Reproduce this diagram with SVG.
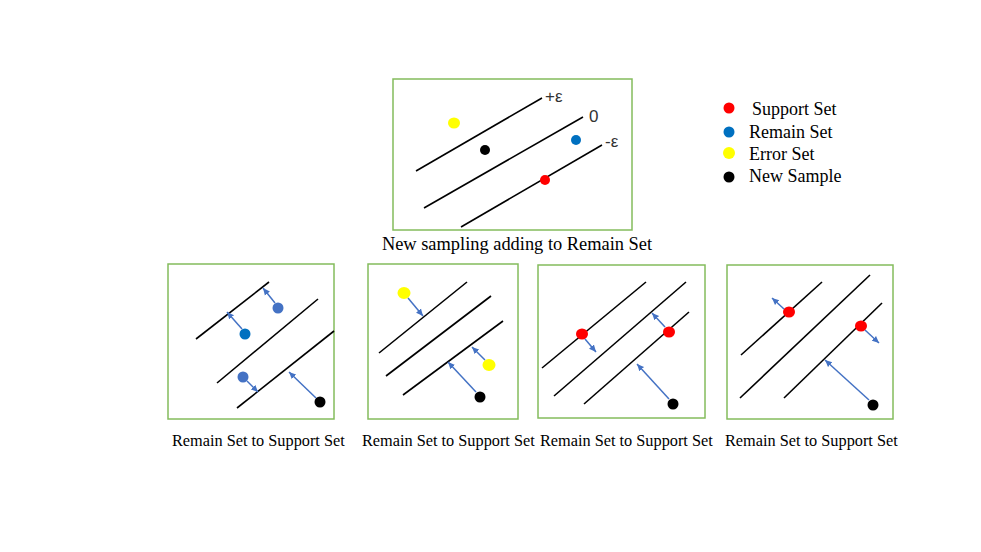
<svg xmlns="http://www.w3.org/2000/svg" width="981" height="552" viewBox="0 0 981 552">
<defs>
<style>
.box{fill:#fff;stroke:#84BC5C;stroke-width:1.5}
.ln{stroke:#000;stroke-width:1.6;fill:none}
.ar{stroke:#4472C4;stroke-width:1.5;fill:none;marker-end:url(#ah)}
.cap{font-family:"Liberation Serif","Times New Roman",serif;font-size:16.3px;fill:#000}
.leg{font-family:"Liberation Serif","Times New Roman",serif;font-size:18px;fill:#000}
.tcap{font-family:"Liberation Serif","Times New Roman",serif;font-size:18.4px;fill:#000}
.eps{font-family:"Liberation Sans",Arial,sans-serif;font-size:17px;fill:#333}
.r{fill:#FF0000}.b{fill:#0070C0}.b2{fill:#4472C4}.y{fill:#FFFF00}.k{fill:#000}
</style>
<marker id="ah" markerUnits="userSpaceOnUse" markerWidth="8" markerHeight="8" refX="7" refY="4" orient="auto">
<path d="M0,0.8 L7,4 L0,7.2 Z" fill="#4472C4"/>
</marker>
</defs>
<rect width="981" height="552" fill="#fff"/>

<g id="top">
<rect class="box" x="393" y="79" width="239" height="151"/>
<line class="ln" x1="416" y1="171" x2="542" y2="98"/>
<line class="ln" x1="424" y1="208" x2="583" y2="117"/>
<line class="ln" x1="461" y1="227" x2="602" y2="145"/>
<text class="eps" x="545" y="102">+ε</text>
<text class="eps" x="589" y="122">0</text>
<text class="eps" x="605" y="147">-ε</text>
<ellipse class="y" cx="454" cy="123" rx="6" ry="5.5"/>
<circle class="k" cx="485" cy="150" r="5"/>
<circle class="b" cx="576" cy="140" r="5"/>
<circle class="r" cx="545" cy="180" r="5"/>
<text class="tcap" x="517" y="250" text-anchor="middle">New sampling adding to Remain Set</text>
</g>

<g id="legend">
<circle class="r" cx="729" cy="108" r="5.5"/>
<text class="leg" x="752" y="115">Support Set</text>
<circle class="b" cx="729" cy="132" r="5.5"/>
<text class="leg" x="749" y="138">Remain Set</text>
<circle class="y" cx="729" cy="153" r="6"/>
<text class="leg" x="749" y="160">Error Set</text>
<circle class="k" cx="729" cy="177" r="5.5"/>
<text class="leg" x="749" y="182">New Sample</text>
</g>

<g id="panel1">
<rect class="box" x="168" y="264" width="166" height="155"/>
<line class="ln" x1="196" y1="339" x2="269" y2="282"/>
<line class="ln" x1="217" y1="383" x2="318" y2="299"/>
<line class="ln" x1="237" y1="408" x2="334" y2="331"/>
<circle class="b2" cx="278" cy="308" r="5.5"/>
<circle class="b" cx="245" cy="334" r="5.5"/>
<circle class="b2" cx="243" cy="377" r="5.5"/>
<circle class="k" cx="320" cy="402" r="5.5"/>
<text class="cap" x="172" y="446">Remain Set to Support Set</text>
</g>

<g id="panel2">
<rect class="box" x="368" y="264" width="150" height="155"/>
<line class="ln" x1="379" y1="353" x2="467" y2="282"/>
<line class="ln" x1="386" y1="376" x2="491" y2="296"/>
<line class="ln" x1="403" y1="395" x2="503" y2="321"/>
<ellipse class="y" cx="404" cy="293" rx="6.5" ry="6"/>
<ellipse class="y" cx="489" cy="365" rx="6.5" ry="6"/>
<circle class="k" cx="480" cy="397" r="5.5"/>
<text class="cap" x="362" y="446">Remain Set to Support Set</text>
</g>

<g id="panel3">
<rect class="box" x="538" y="265" width="167" height="153"/>
<line class="ln" x1="542" y1="368" x2="646" y2="282"/>
<line class="ln" x1="554" y1="396" x2="686" y2="282"/>
<line class="ln" x1="584" y1="404" x2="689" y2="312"/>
<ellipse class="r" cx="582" cy="334" rx="6" ry="5.5"/>
<ellipse class="r" cx="669" cy="332" rx="6" ry="5.5"/>
<circle class="k" cx="673" cy="404" r="5.5"/>
<text class="cap" x="540" y="446">Remain Set to Support Set</text>
</g>

<g id="panel4">
<rect class="box" x="727" y="265" width="166" height="154"/>
<line class="ln" x1="741" y1="355" x2="822" y2="282"/>
<line class="ln" x1="740" y1="398" x2="870" y2="275"/>
<line class="ln" x1="784" y1="398" x2="882" y2="303"/>
<ellipse class="r" cx="789" cy="312" rx="6" ry="5.5"/>
<ellipse class="r" cx="861" cy="326" rx="6" ry="5.5"/>
<circle class="k" cx="873" cy="405" r="5.5"/>
<text class="cap" x="725" y="446">Remain Set to Support Set</text>
</g>

<g id="connectors">
<line class="ar" x1="275" y1="303" x2="263" y2="288"/>
<line class="ar" x1="242" y1="329" x2="227" y2="312"/>
<line class="ar" x1="247" y1="381" x2="258" y2="392"/>
<line class="ar" x1="316" y1="398" x2="289" y2="372"/>
<line class="ar" x1="408" y1="298" x2="423" y2="316"/>
<line class="ar" x1="485" y1="360" x2="472" y2="347"/>
<line class="ar" x1="476" y1="392" x2="448" y2="362"/>
<line class="ar" x1="585" y1="339" x2="596" y2="352"/>
<line class="ar" x1="665" y1="327" x2="652" y2="313"/>
<line class="ar" x1="669" y1="399" x2="637" y2="364"/>
<line class="ar" x1="784" y1="309" x2="772" y2="298"/>
<line class="ar" x1="865" y1="330" x2="879" y2="343"/>
<line class="ar" x1="869" y1="400" x2="825" y2="360"/>
</g>
</svg>
